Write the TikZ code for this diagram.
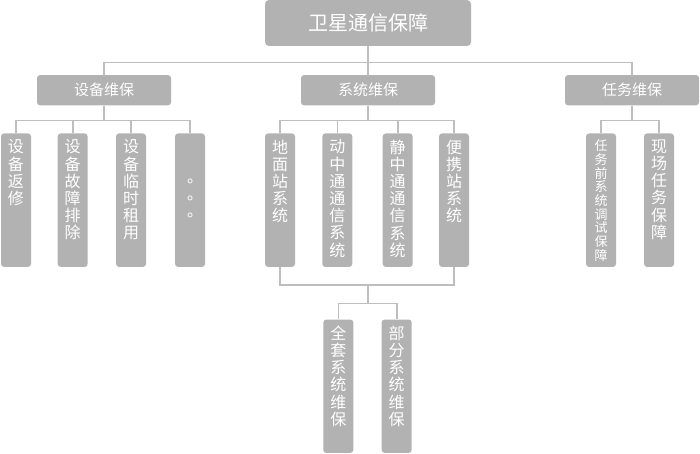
\documentclass[tikz,border=0pt]{standalone}
\usepackage{fontspec}
\setmainfont{Noto Sans CJK SC}
\newfontfamily\tcfont{Noto Sans CJK TC}
\usetikzlibrary{calc}
\definecolor{boxgray}{RGB}{178,178,178}
\definecolor{linegray}{RGB}{190,190,190}
\newcommand{\vtxt}[2][t]{\parbox[t][121pt][#1]{18pt}{\centering #2}}

\begin{document}
\begin{tikzpicture}[x=1pt,y=-1pt,
  box/.style={fill=boxgray,text=white,rounded corners=3pt,inner sep=0pt},
  head/.style={box,minimum width=206pt,minimum height=46pt,rounded corners=4pt,font=\fontsize{20}{24}\selectfont},
  group/.style={box,minimum width=134pt,minimum height=30.3pt,font=\fontsize{15}{18}\selectfont},
  leaf/.style={box,anchor=north,minimum width=30pt,minimum height=133.4pt,inner ysep=6pt,font=\fontsize{16}{17.2}\selectfont},
  smallleaf/.style={leaf,font=\fontsize{13}{13.7}\selectfont},
  link/.style={draw=linegray,line width=1.6pt}]
\useasboundingbox (0,0) rectangle (700,454);
\node [head] (top) at (368,23) {卫星通信保障};
\node [group] (equip) at (104,90.2) {设备维保};
\node [group] (sys) at (368,90.2) {系统维保};
\node [group] (task) at (632,90.2) {任务维保};
\node [leaf] (e1) at (16,133.3) {\vtxt{设\\备\\返\\修}};
\node [leaf] (e2) at (72.7,133.3) {\vtxt{设\\备\\故\\障\\排\\除}};
\node [leaf] (e3) at (131,133.3) {\vtxt{设\\备\\临\\时\\租\\用}};
\node [leaf] (e4) at (190,133.3) {\vtxt[c]{\tcfont 。\\。\\。}};
\node [leaf] (s1) at (280,133.3) {\vtxt{地\\面\\站\\系\\统}};
\node [leaf] (s2) at (337.3,133.3) {\vtxt{动\\中\\通\\通\\信\\系\\统}};
\node [leaf] (s3) at (397.7,133.3) {\vtxt{静\\中\\通\\通\\信\\系\\统}};
\node [leaf] (s4) at (454,133.3) {\vtxt{便\\携\\站\\系\\统}};
\node [smallleaf] (t1) at (601,133.3) {\vtxt{任\\务\\前\\系\\统\\调\\试\\保\\障}};
\node [leaf] (t2) at (659,133.3) {\vtxt{现\\场\\任\\务\\保\\障}};
\node [leaf] (m1) at (338.3,319.3) {\vtxt{全\\套\\系\\统\\维\\保}};
\node [leaf] (m2) at (396.7,319.3) {\vtxt{部\\分\\系\\统\\维\\保}};
% first level
\coordinate (bus) at (368,62.7);
\draw [link] (top) -- (sys);
\draw [link] (equip.north) |- (bus) -| (task.north);
% equipment
\coordinate (ebus) at ($(equip.south)+(0,15)$);
\draw [link] (equip) -- (ebus);
\draw [link] (e1.north) |- (ebus) -| (e4.north);
\draw [link] (e2) -- (e2 |- ebus);
\draw [link] (e3) -- (e3 |- ebus);
% systems
\coordinate (sbus) at ($(sys.south)+(0,15)$);
\draw [link] (sys) -- (sbus);
\draw [link] (s1.north) |- (sbus) -| (s4.north);
\draw [link] (s2) -- (s2 |- sbus);
\draw [link] (s3) -- (s3 |- sbus);
\coordinate (jbus) at (368,285);
\coordinate (mbus) at (368,303.3);
\draw [link] (s1.south) |- (jbus) -| (s4.south);
\draw [link] (jbus) -- (mbus);
\draw [link] (m1.north) |- (mbus) -| (m2.north);
% tasks
\coordinate (tbus) at ($(task.south)+(0,15)$);
\draw [link] (task) -- (tbus);
\draw [link] (t1.north) |- (tbus) -| (t2.north);
\end{tikzpicture}
\end{document}
